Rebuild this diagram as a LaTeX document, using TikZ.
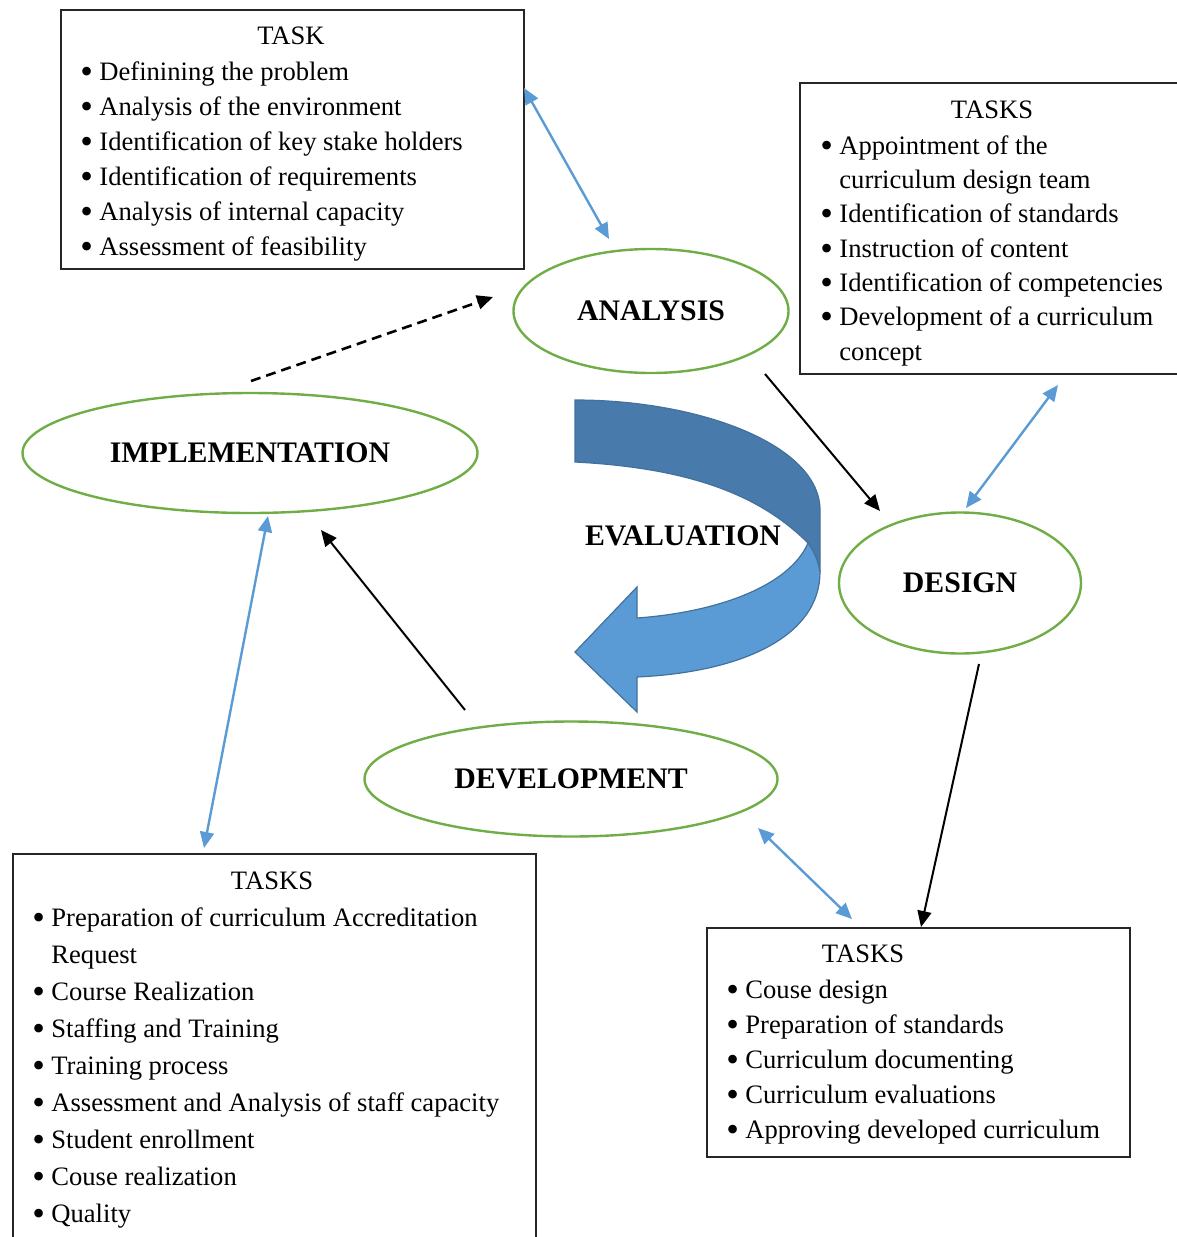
\documentclass[tikz,border=0pt]{standalone}
\usepackage{fontspec}
\setmainfont{Liberation Serif}
\usetikzlibrary{arrows.meta,shapes.geometric}
\definecolor{elgreen}{RGB}{112,173,71}
\definecolor{lnblue}{RGB}{91,155,213}
\definecolor{banddark}{RGB}{72,122,171}
\definecolor{bandlight}{RGB}{91,155,213}
\definecolor{bandedge}{RGB}{65,113,156}
\newcommand\bul{\raisebox{-1.6pt}{\fontsize{18}{18}\selectfont •}}
\begin{document}
\begin{tikzpicture}[x=0.5pt,y=-0.5pt,
  phase/.style={ellipse, draw=elgreen, line width=1.2pt, inner sep=0pt,
    font=\fontsize{14.9}{17}\selectfont\bfseries},
  taskbox/.style={draw=black!85, line width=0.8pt, anchor=north west, inner sep=0pt},
  boxtitle/.style={anchor=base, inner sep=0pt, font=\fontsize{13.3}{16}\selectfont},
  tasklist/.style={anchor=base west, inner sep=0pt, align=left},
  bluearrow/.style={draw=lnblue, line width=1.2pt,
    {Triangle[length=8pt,width=7pt]}-{Triangle[length=8pt,width=7pt]}},
  blackarrow/.style={draw=black, line width=1pt, -{Triangle[length=8pt,width=7pt]}},
]
\useasboundingbox (0,0) rectangle (1177,1237);

% ---------- curved EVALUATION arrow ----------
\filldraw[fill=banddark, draw=bandedge, line width=0.6pt]
  (575,400) .. controls (700,400) and (820,445) .. (820,510) -- (820,572)
  .. controls (818,560) and (814,551) .. (808,543)
  .. controls (760,495) and (690,468) .. (575,462) -- cycle;
\filldraw[fill=bandlight, draw=bandedge, line width=0.6pt]
  (808,543) .. controls (814,551) and (818,560) .. (820,572)
  .. controls (820,635) and (745,672) .. (637,677) -- (637,712) -- (575,652)
  -- (637,587) -- (637,618)
  .. controls (720,612) and (790,585) .. (808,543) -- cycle;
\node[font=\fontsize{14.9}{17}\selectfont\bfseries, inner sep=0pt] (evaluation) at (683,536) {EVALUATION};

% ---------- phases ----------
\node[phase, minimum width=137.5pt, minimum height=62pt] (analysis) at (651,311) {ANALYSIS};
\node[phase, minimum width=227.5pt, minimum height=60pt] (implementation) at (250,453) {IMPLEMENTATION};
\node[phase, minimum width=121pt, minimum height=70.5pt] (design) at (960,583) {DESIGN};
\node[phase, minimum width=206.5pt, minimum height=57.5pt] (development) at (571,779) {DEVELOPMENT};

% ---------- task boxes ----------
\node[taskbox, minimum width=231.5pt, minimum height=129.5pt] (box1) at (60,9) {};
\node[boxtitle] (title1) at (291,44) {TASK};
\node[tasklist, font=\fontsize{13.3}{17.5}\selectfont] (list1) at (80,80)
{\begin{tabular}[t]{@{}p{9.5pt}@{}l@{}}
\bul & Definining the problem\\
\bul & Analysis of the environment\\
\bul & Identification of key stake holders\\
\bul & Identification of requirements\\
\bul & Analysis of internal capacity\\
\bul & Assessment of feasibility
\end{tabular}};

\node[taskbox, minimum width=200pt, minimum height=145.5pt] (box2) at (799,82) {};
\node[boxtitle] (title2) at (992,118) {TASKS};
\node[tasklist, font=\fontsize{13.3}{17.17}\selectfont] (list2) at (820,154)
{\begin{tabular}[t]{@{}p{9.5pt}@{}l@{}}
\bul & Appointment of the\\
     & curriculum design team\\
\bul & Identification of standards\\
\bul & Instruction of content\\
\bul & Identification of competencies\\
\bul & Development of a curriculum\\
     & concept
\end{tabular}};

\node[taskbox, minimum width=261.5pt, minimum height=210pt] (box3) at (12,853) {};
\node[boxtitle] (title3) at (272,889) {TASKS};
\node[tasklist, font=\fontsize{13.3}{18.5}\selectfont] (list3) at (32,926)
{\begin{tabular}[t]{@{}p{9.5pt}@{}l@{}}
\bul & Preparation of curriculum Accreditation\\
     & Request\\
\bul & Course Realization\\
\bul & Staffing and Training\\
\bul & Training process\\
\bul & Assessment and Analysis of staff capacity\\
\bul & Student enrollment\\
\bul & Couse realization\\
\bul & Quality
\end{tabular}};

\node[taskbox, minimum width=211.5pt, minimum height=114.5pt] (box4) at (706,927) {};
\node[boxtitle] (title4) at (863,962) {TASKS};
\node[tasklist, font=\fontsize{13.3}{17.5}\selectfont] (list4) at (726,998)
{\begin{tabular}[t]{@{}p{9.5pt}@{}l@{}}
\bul & Couse design\\
\bul & Preparation of standards\\
\bul & Curriculum documenting\\
\bul & Curriculum evaluations\\
\bul & Approving developed curriculum
\end{tabular}};

% ---------- connector end points ----------
\coordinate (a1s) at (524,88);   \coordinate (a1e) at (609,239);
\coordinate (a2s) at (251,381);  \coordinate (a2e) at (493,297);
\coordinate (a3s) at (765,374);  \coordinate (a3e) at (880,511);
\coordinate (a4s) at (1058,385); \coordinate (a4e) at (966,508);
\coordinate (a5s) at (979,664);  \coordinate (a5e) at (921,927);
\coordinate (a6s) at (758,828);  \coordinate (a6e) at (852,919);
\coordinate (a7s) at (465,710);  \coordinate (a7e) at (321,530);
\coordinate (a8s) at (268,516);  \coordinate (a8e) at (204,848);

% ---------- connectors ----------
\draw[bluearrow] (a1s) -- (a1e);
\draw[blackarrow, line width=1.3pt, dash pattern=on 5pt off 3pt] (a2s) -- (a2e);
\draw[blackarrow] (a3s) -- (a3e);
\draw[bluearrow] (a4s) -- (a4e);
\draw[blackarrow] (a5s) -- (a5e);
\draw[bluearrow] (a6s) -- (a6e);
\draw[blackarrow] (a7s) -- (a7e);
\draw[bluearrow] (a8s) -- (a8e);
\end{tikzpicture}
\end{document}
